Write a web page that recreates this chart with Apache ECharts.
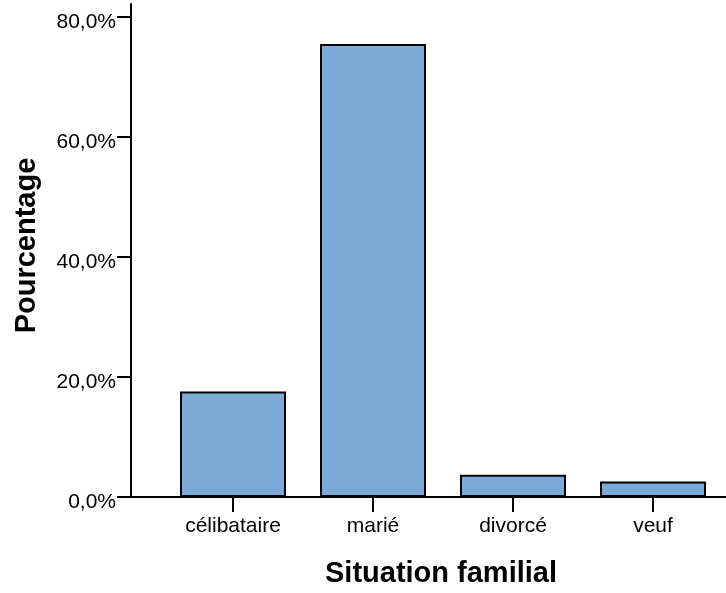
<!DOCTYPE html>
<html>
<head>
<meta charset="utf-8">
<script src="https://cdn.jsdelivr.net/npm/echarts@6/dist/echarts.min.js"></script>
<style>
  html, body { margin: 0; padding: 0; background: #fff; }
  #chart { width: 726px; height: 593px; }
</style>
</head>
<body>
<div id="chart"></div>
<script>
const categories = ['célibataire', 'marié', 'divorcé', 'veuf']
const percentages = [17.6, 75.5, 3.7, 2.6]
const yTicks = { min: 0, max: 80, interval: 20 }

const font = '"Liberation Sans", Arial, sans-serif'
const lineStyle = { color: '#000', width: 2 }

const myChart = echarts.init(document.getElementById('chart'), null, { renderer: 'canvas' })

myChart.setOption({
  animation: false,
  backgroundColor: '#fff',
  grid: [
    // bars
    { left: 163, right: 3, top: 17, bottom: 96 },
    // long axis lines
    { left: 131, right: 0, top: 4, bottom: 96 },
  ],
  xAxis: [
    {
      type: 'category',
      gridIndex: 0,
      data: categories,
      boundaryGap: true,
      axisLine: { show: true, lineStyle },
      axisTick: { show: true, alignWithLabel: true, length: 15, lineStyle },
      axisLabel: { color: '#000', fontFamily: font, fontSize: 21, margin: 19 },
      name: 'Situation familial',
      nameLocation: 'middle',
      nameGap: 62,
      nameTextStyle: { color: '#000', fontFamily: font, fontSize: 29, fontWeight: 'bold', padding: [0, 4, 0, 0] },
    },
    {
      type: 'value',
      gridIndex: 1,
      min: 0,
      max: 1,
      axisLine: { show: true, lineStyle },
      axisTick: { show: false },
      axisLabel: { show: false },
      splitLine: { show: false },
    },
  ],
  yAxis: [
    {
      type: 'value',
      gridIndex: 0,
      min: yTicks.min,
      max: yTicks.max,
      interval: yTicks.interval,
      offset: 32,
      axisLine: { show: false },
      axisTick: { show: true, length: 14, lineStyle },
      splitLine: { show: false },
      axisLabel: {
        color: '#000',
        fontFamily: font,
        fontSize: 21,
        margin: 15,
        verticalAlign: 'top',
        lineHeight: 10,
        formatter: (v) => v.toFixed(1).replace('.', ',') + '%',
      },
    },
    {
      type: 'value',
      gridIndex: 1,
      min: 0,
      max: 1,
      axisLine: { show: true, lineStyle },
      axisTick: { show: false },
      axisLabel: { show: false },
      splitLine: { show: false },
      name: 'Pourcentage',
      nameLocation: 'middle',
      nameGap: 90,
      nameTextStyle: { color: '#000', fontFamily: font, fontSize: 29, fontWeight: 'bold', padding: [0, 0, 0, 10] },
    },
  ],
  series: [
    {
      type: 'bar',
      xAxisIndex: 0,
      yAxisIndex: 0,
      data: percentages,
      barWidth: 106,
      itemStyle: { color: '#7BAAD6', borderColor: '#000', borderWidth: 2 },
      emphasis: { disabled: true },
    },
  ],
})
</script>
</body>
</html>
